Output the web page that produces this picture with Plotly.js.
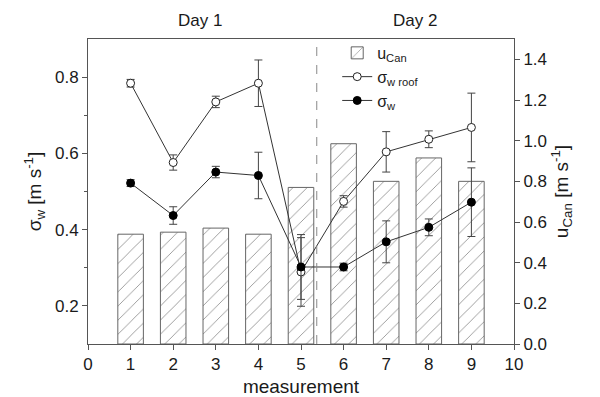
<!DOCTYPE html>
<html>
<head>
<meta charset="utf-8">
<script src="https://cdn.plot.ly/plotly-3.0.1.min.js"></script>
<style>html,body{margin:0;padding:0;background:#fff;}#chart{width:600px;height:397px;}</style>
</head>
<body>
<div id="chart"></div>
<script>
var measurement = [1, 2, 3, 4, 5, 6, 7, 8, 9];
var uCan = [0.54, 0.55, 0.57, 0.54, 0.77, 0.985, 0.80, 0.915, 0.80];
var sigmaRoof = [0.784, 0.576, 0.735, 0.784, 0.289, 0.474, 0.604, 0.637, 0.668];
var sigmaRoofErr = [0.01, 0.02, 0.015, 0.061, 0.09, 0.015, 0.053, 0.022, 0.09];
var sigmaW = [0.522, 0.437, 0.551, 0.542, 0.302, 0.302, 0.368, 0.406, 0.472];
var sigmaWErr = [0.009, 0.023, 0.015, 0.061, 0.085, 0.01, 0.055, 0.022, 0.09];
var dayLabels = ['Day 1', 'Day 2'];
var dayLabelX = [2.63, 7.68];
var daySplit = 5.37;
var xTicks = [0, 1, 2, 3, 4, 5, 6, 7, 8, 9, 10];
var leftTicks = [0.2, 0.4, 0.6, 0.8];

var FONT = 'Liberation Sans, Arial, sans-serif';
var INK = '#1a1a1a';
var AX = '#555';

var traces = [
  {
    type: 'bar', x: measurement, y: uCan, yaxis: 'y', name: 'u<sub>Can</sub>',
    width: 0.6,
    marker: {color: 'white', line: {color: '#666', width: 1},
             pattern: {shape: '/', fgcolor: '#777', bgcolor: 'white', size: 10, solidity: 0.07}}
  },
  {
    type: 'scatter', mode: 'lines+markers', x: measurement, y: sigmaRoof, yaxis: 'y2',
    name: '\u03c3<sub>w roof</sub>',
    line: {color: '#333', width: 1},
    marker: {symbol: 'circle', size: 8, color: 'white', line: {color: '#222', width: 1}},
    error_y: {type: 'data', array: sigmaRoofErr, visible: true, color: '#444', thickness: 1, width: 4}
  },
  {
    type: 'scatter', mode: 'lines+markers', x: measurement, y: sigmaW, yaxis: 'y2',
    name: '\u03c3<sub>w</sub>',
    line: {color: '#333', width: 1},
    marker: {symbol: 'circle', size: 8, color: '#000', line: {color: '#000', width: 1}},
    error_y: {type: 'data', array: sigmaWErr, visible: true, color: '#444', thickness: 1, width: 4}
  }
];

var annotations = dayLabels.map(function (t, i) {
  return {text: t, x: dayLabelX[i], xref: 'x', y: 1.062, yref: 'paper', showarrow: false,
          xanchor: 'center', yanchor: 'middle', font: {family: FONT, size: 17, color: INK}};
});

var layout = {
  width: 600, height: 397,
  margin: {l: 88, r: 86, t: 39, b: 53, pad: 0},
  paper_bgcolor: 'white', plot_bgcolor: 'white',
  font: {family: FONT, size: 17, color: INK},
  showlegend: true,
  legend: {x: 0.585, y: 1.01, xanchor: 'left', yanchor: 'top', bgcolor: 'rgba(0,0,0,0)',
           font: {family: FONT, size: 16, color: INK}, tracegroupgap: 0, itemwidth: 30},
  xaxis: {
    range: [0, 10], tickvals: xTicks, ticks: 'outside', ticklen: 5, tickcolor: AX,
    showline: true, linecolor: AX, linewidth: 1, mirror: true,
    showgrid: false, zeroline: false,
    tickfont: {family: FONT, size: 17, color: INK},
    title: {text: 'measurement', font: {family: FONT, size: 19, color: INK}, standoff: 6}
  },
  yaxis: {
    side: 'right', range: [0, 1.5], dtick: 0.2, tick0: 0, tickformat: '.1f',
    ticks: 'outside', ticklen: 5, tickcolor: AX,
    showline: true, linecolor: AX, linewidth: 1, showgrid: false, zeroline: false,
    tickfont: {family: FONT, size: 17, color: INK},
    title: {text: 'u<sub>Can</sub> [m s<sup>-1</sup>]', font: {family: FONT, size: 19, color: INK}, standoff: 8}
  },
  yaxis2: {
    overlaying: 'y', side: 'left', range: [0.1, 0.9], tickvals: leftTicks, tickformat: '.1f',
    ticks: 'outside', ticklen: 5, tickcolor: AX,
    minor: {tickvals: [0.3, 0.5, 0.7], ticks: 'outside', ticklen: 3, tickcolor: AX},
    showline: true, linecolor: AX, linewidth: 1, showgrid: false, zeroline: false,
    tickfont: {family: FONT, size: 17, color: INK},
    title: {text: '\u03c3<sub>w</sub> [m s<sup>-1</sup>]', font: {family: FONT, size: 19, color: INK}, standoff: 8}
  },
  shapes: [{
    type: 'line', xref: 'x', yref: 'paper', x0: daySplit, x1: daySplit, y0: 0, y1: 1,
    line: {color: '#888', width: 1, dash: 'dash'}, layer: 'above'
  }],
  annotations: annotations
};

Plotly.newPlot('chart', traces, layout, {displayModeBar: false, staticPlot: true});
</script>
</body>
</html>
